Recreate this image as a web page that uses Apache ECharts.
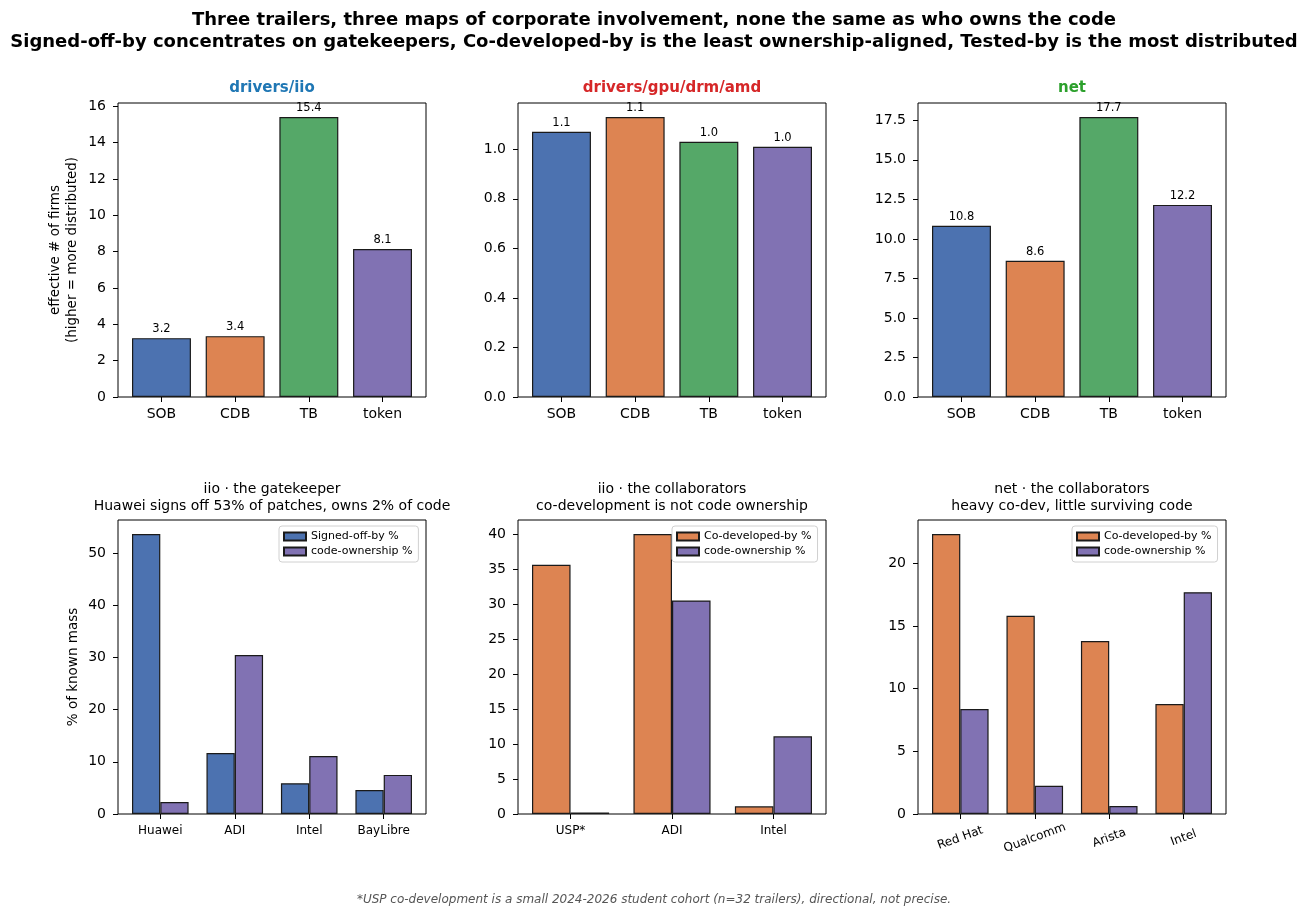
<!DOCTYPE html>
<html>
<head>
<meta charset="utf-8">
<script src="https://cdn.jsdelivr.net/npm/echarts@6/dist/echarts.min.js"></script>
<style>
  html, body { margin: 0; padding: 0; background: #fff; }
  #chart { width: 1308px; height: 919px; }
</style>
</head>
<body>
<div id="chart"></div>
<script>
// top row: effective number of firms per trailer
const topCats = ['SOB', 'CDB', 'TB', 'token'];
const iioEff = [3.24, 3.35, 15.41, 8.14];
const amdEff = [1.07, 1.13, 1.03, 1.01];
const netEff = [10.83, 8.62, 17.71, 12.15];

// bottom row: % of known mass
const gateFirms = ['Huawei', 'ADI', 'Intel', 'BayLibre'];
const gateSob = [53.7, 11.7, 5.9, 4.6];
const gateOwn = [2.3, 30.5, 11.1, 7.5];

const iioCollabFirms = ['USP*', 'ADI', 'Intel'];
const iioCdb = [35.6, 40.0, 1.1];
const iioCollabOwn = [0.23, 30.5, 11.1];

const netFirms = ['Red Hat', 'Qualcomm', 'Arista', 'Intel'];
const netCdb = [22.35, 15.83, 13.8, 8.78];
const netOwn = [8.38, 2.26, 0.64, 17.7];

// tick labels
const ticksIio = [0, 2, 4, 6, 8, 10, 12, 14, 16];
const ticksAmd = [0, 0.2, 0.4, 0.6, 0.8, 1.0];
const ticksNet = [0, 2.5, 5, 7.5, 10, 12.5, 15, 17.5];
const ticksGate = [0, 10, 20, 30, 40, 50];
const ticksIioCollab = [0, 5, 10, 15, 20, 25, 30, 35, 40];
const ticksNetCollab = [0, 5, 10, 15, 20];

const C = { blue: '#4c72b0', orange: '#dd8452', green: '#55a868', purple: '#8172b3' };
const topColors = [C.blue, C.orange, C.green, C.purple];

const chart = echarts.init(document.getElementById('chart'));

const W = 308, H = 294;
const lefts = [118, 518, 918];
const tops = [103, 520];

const grids = [];
for (let r = 0; r < 2; r++) {
  for (let c = 0; c < 3; c++) {
    grids.push({ left: lefts[c], top: tops[r], width: W, height: H,
      show: true, borderColor: '#000', borderWidth: 1, backgroundColor: '#fff' });
  }
}

function xAxis(gi, cats, min, opts) {
  opts = opts || {};
  const idx = cats.map((c, i) => i);
  return {
    type: 'value', gridIndex: gi, min: min, max: cats.length - 1 - min,
    axisLine: { show: false, onZero: false }, splitLine: { show: false },
    axisTick: { show: true, length: 5, customValues: idx, lineStyle: { color: '#000' } },
    axisLabel: Object.assign({
      customValues: idx, formatter: v => cats[Math.round(v)],
      color: '#000', fontSize: opts.fontSize || 14, margin: 10
    }, opts.label || {})
  };
}

function yAxis(gi, ticks, digits, name, nameGap) {
  return {
    type: 'value', gridIndex: gi, min: 0, max: v => v.max * 1.05,
    axisLine: { show: false, onZero: false }, splitLine: { show: false },
    axisTick: { show: true, length: 5, customValues: ticks, lineStyle: { color: '#000' } },
    axisLabel: { customValues: ticks, formatter: v => v.toFixed(digits), color: '#000', fontSize: 14, margin: 12 },
    name: name || '', nameLocation: 'middle', nameRotate: 90, nameGap: nameGap || 40,
    nameTextStyle: { color: '#000', fontSize: 13.5, lineHeight: 17 }
  };
}

const edge = { borderColor: '#1a1a1a', borderWidth: 1.2 };

function topSeries(gi, vals) {
  return {
    type: 'bar', xAxisIndex: gi, yAxisIndex: gi,
    barWidth: W / 4.18 * 0.8,
    data: vals.map((v, i) => ({ value: [i, v], itemStyle: Object.assign({ color: topColors[i] }, edge) })),
    label: { show: true, position: 'top', distance: 3, fontSize: 11.5, color: '#000',
      formatter: p => p.value[1].toFixed(1) }
  };
}

function pairSeries(gi, name, vals, color, bw) {
  return {
    type: 'bar', name: name, xAxisIndex: gi, yAxisIndex: gi,
    barWidth: bw, barGap: '0%',
    itemStyle: Object.assign({ color: color }, edge),
    data: vals.map((v, i) => [i, v])
  };
}

function legendAt(left, names) {
  return {
    left: left, top: 526, orient: 'vertical', icon: 'rect',
    itemWidth: 22, itemHeight: 8, itemGap: 4,
    padding: [5, 6, 5, 4],
    backgroundColor: '#fff', borderColor: '#d0d0d0', borderWidth: 1, borderRadius: 3,
    textStyle: { fontSize: 11, color: '#000' },
    data: names
  };
}

const bw4 = W / 4.136 * 0.38;
const bw3 = W / 3.036 * 0.38;

const subStyle = { fontSize: 14, fontWeight: 'normal', color: '#000', lineHeight: 17 };

const option = {
  animation: false,
  textStyle: { fontFamily: 'DejaVu Sans' },
  title: [
    { text: 'Three trailers, three maps of corporate involvement, none the same as who owns the code\nSigned-off-by concentrates on gatekeepers, Co-developed-by is the least ownership-aligned, Tested-by is the most distributed',
      left: 654, top: 9, textAlign: 'center', padding: 0,
      textStyle: { fontSize: 18, fontWeight: 'bold', color: '#000', lineHeight: 22 } },
    { text: 'drivers/iio', left: 272, top: 81, textAlign: 'center', padding: 0,
      textStyle: { fontSize: 15, fontWeight: 'bold', color: '#1f77b4' } },
    { text: 'drivers/gpu/drm/amd', left: 672, top: 81, textAlign: 'center', padding: 0,
      textStyle: { fontSize: 15, fontWeight: 'bold', color: '#d62728' } },
    { text: 'net', left: 1072, top: 81, textAlign: 'center', padding: 0,
      textStyle: { fontSize: 15, fontWeight: 'bold', color: '#2ca02c' } },
    { text: 'iio · the gatekeeper\nHuawei signs off 53% of patches, owns 2% of code', left: 272, top: 481,
      textAlign: 'center', padding: 0, textStyle: subStyle },
    { text: 'iio · the collaborators\nco-development is not code ownership', left: 672, top: 481,
      textAlign: 'center', padding: 0, textStyle: subStyle },
    { text: 'net · the collaborators\nheavy co-dev, little surviving code', left: 1072, top: 481,
      textAlign: 'center', padding: 0, textStyle: subStyle },
    { text: '*USP co-development is a small 2024-2026 student cohort (n=32 trailers), directional, not precise.',
      left: 654, top: 894, textAlign: 'center', padding: 0,
      textStyle: { fontSize: 12, fontStyle: 'italic', fontWeight: 'normal', color: '#555' } }
  ],
  legend: [
    legendAt(279, ['Signed-off-by %', 'code-ownership %']),
    legendAt(672, ['Co-developed-by %', 'code-ownership %']),
    legendAt(1072, ['Co-developed-by %', 'code-ownership %'])
  ],
  grid: grids,
  xAxis: [
    xAxis(0, topCats, -0.59),
    xAxis(1, topCats, -0.59),
    xAxis(2, topCats, -0.59),
    xAxis(3, gateFirms, -0.568, { fontSize: 12, label: { margin: 11 } }),
    xAxis(4, iioCollabFirms, -0.518, { fontSize: 12, label: { margin: 11 } }),
    xAxis(5, netFirms, -0.568, { fontSize: 12, label: { rotate: 20, align: 'center', verticalAlign: 'middle', margin: 24 } })
  ],
  yAxis: [
    yAxis(0, ticksIio, 0, 'effective # of firms\n(higher = more distributed)', 37),
    yAxis(1, ticksAmd, 1),
    yAxis(2, ticksNet, 1),
    yAxis(3, ticksGate, 0, '% of known mass', 36),
    yAxis(4, ticksIioCollab, 0),
    yAxis(5, ticksNetCollab, 0)
  ],
  series: [
    topSeries(0, iioEff),
    topSeries(1, amdEff),
    topSeries(2, netEff),
    pairSeries(3, 'Signed-off-by %', gateSob, C.blue, bw4),
    pairSeries(3, 'code-ownership %', gateOwn, C.purple, bw4),
    pairSeries(4, 'Co-developed-by %', iioCdb, C.orange, bw3),
    pairSeries(4, 'code-ownership %', iioCollabOwn, C.purple, bw3),
    pairSeries(5, 'Co-developed-by %', netCdb, C.orange, bw4),
    pairSeries(5, 'code-ownership %', netOwn, C.purple, bw4)
  ]
};

chart.setOption(option);
window.addEventListener('resize', () => chart.resize());
</script>
</body>
</html>
